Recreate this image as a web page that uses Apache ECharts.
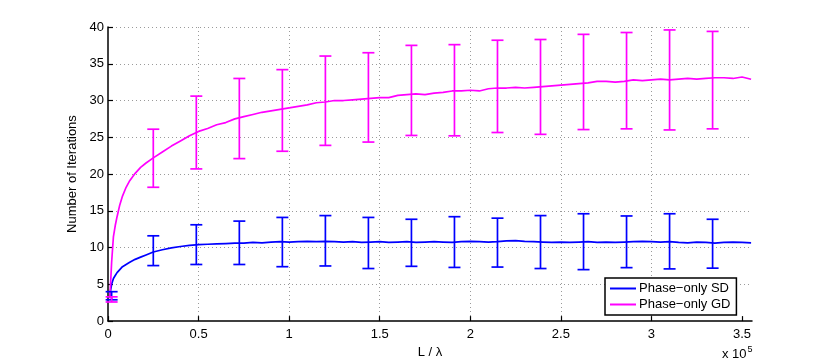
<!DOCTYPE html>
<html>
<head>
<meta charset="utf-8">
<script src="https://cdn.jsdelivr.net/npm/echarts@6/dist/echarts.min.js"></script>
<style>
  html, body { margin: 0; padding: 0; background: #fff; }
  #iterations { width: 830px; height: 364px; }
</style>
</head>
<body>
<div id="iterations"></div>
<script>
// L / lambda sample positions (x 10^5)
const lineX = [0.01, 0.015, 0.02, 0.03, 0.04, 0.05, 0.065, 0.08, 0.1, 0.12, 0.15, 0.18, 0.21, 0.25, 0.3,
  0.35, 0.4, 0.45, 0.5, 0.55, 0.6, 0.65, 0.7, 0.75, 0.8, 0.85, 0.9, 0.95, 1.0, 1.05, 1.1, 1.15, 1.2, 1.25,
  1.3, 1.35, 1.4, 1.45, 1.5, 1.55, 1.6, 1.65, 1.7, 1.75, 1.8, 1.85, 1.9, 1.95, 2.0, 2.05, 2.1, 2.15, 2.2,
  2.25, 2.3, 2.35, 2.4, 2.45, 2.5, 2.55, 2.6, 2.65, 2.7, 2.75, 2.8, 2.85, 2.9, 2.95, 3.0, 3.05, 3.1, 3.15,
  3.2, 3.25, 3.3, 3.35, 3.4, 3.45, 3.5, 3.55];

// mean number of iterations, phase-only SD
const sdMean = [3.3, 4.3, 5.0, 5.8, 6.2, 6.6, 7.0, 7.4, 7.7, 8.0, 8.4, 8.7, 9.0, 9.4, 9.7,
  9.95, 10.15, 10.3, 10.4, 10.45, 10.5, 10.55, 10.6, 10.6, 10.7, 10.65, 10.75, 10.8, 10.75, 10.8, 10.85, 10.8, 10.85, 10.8,
  10.75, 10.8, 10.7, 10.75, 10.8, 10.7, 10.75, 10.8, 10.7, 10.75, 10.8, 10.75, 10.7, 10.8, 10.85, 10.8, 10.75, 10.8, 10.9,
  10.95, 10.85, 10.8, 10.75, 10.7, 10.75, 10.7, 10.75, 10.8, 10.7, 10.75, 10.7, 10.75, 10.8, 10.85, 10.8, 10.75, 10.8, 10.7,
  10.65, 10.75, 10.7, 10.6, 10.7, 10.75, 10.7, 10.65];

// mean number of iterations, phase-only GD
const gdMean = [3.1, 5.5, 8.0, 11.5, 13.0, 14.2, 15.8, 17.0, 18.2, 19.1, 20.1, 20.9, 21.5, 22.2, 23.0,
  23.8, 24.5, 25.2, 25.8, 26.2, 26.7, 27.0, 27.5, 27.8, 28.1, 28.4, 28.6, 28.8, 29.0, 29.2, 29.4, 29.7, 29.8, 30.0,
  30.0, 30.1, 30.2, 30.3, 30.4, 30.4, 30.7, 30.8, 30.9, 30.8, 31.0, 31.1, 31.3, 31.3, 31.4, 31.3, 31.6, 31.7, 31.7,
  31.8, 31.7, 31.8, 31.9, 32.0, 32.1, 32.2, 32.3, 32.4, 32.6, 32.6, 32.5, 32.6, 32.8, 32.7, 32.8, 32.9, 32.8, 32.9,
  33.0, 32.9, 33.0, 33.1, 33.1, 33.0, 33.2, 32.9];

// error bar positions (x 10^5) and ranges
const barX = [0.02, 0.25, 0.4875, 0.725, 0.9625, 1.2, 1.4375, 1.675, 1.9125, 2.15, 2.3875, 2.625, 2.8625, 3.1, 3.3375];
const sdLow = [2.9, 7.55, 7.7, 7.7, 7.4, 7.5, 7.15, 7.45, 7.3, 7.35, 7.15, 7.0, 7.27, 7.1, 7.2];
const sdHigh = [4.0, 11.6, 13.1, 13.6, 14.1, 14.35, 14.1, 13.85, 14.2, 14.0, 14.35, 14.6, 14.3, 14.6, 13.85];
const gdLow = [2.6, 18.2, 20.7, 22.1, 23.1, 23.9, 24.35, 25.25, 25.2, 25.65, 25.4, 26.05, 26.15, 26.0, 26.15];
const gdHigh = [3.3, 26.1, 30.6, 33.0, 34.2, 36.05, 36.5, 37.5, 37.6, 38.2, 38.3, 39.0, 39.25, 39.6, 39.4];

const xTicks = [0, 0.5, 1, 1.5, 2, 2.5, 3, 3.5];

const font = "'Liberation Sans', Arial, Helvetica, sans-serif";

function pairs (xs, ys) {
  return xs.map((x, i) => [x, ys[i]]);
}
function bars (xs, lo, hi) {
  return xs.map((x, i) => [x, lo[i], hi[i]]);
}

// I-beam error bar
function errorBar (color) {
  return function (params, api) {
    const top = api.coord([api.value(0), api.value(2)]);
    const bot = api.coord([api.value(0), api.value(1)]);
    const hw = 6;
    const style = { stroke: color, lineWidth: 1.7 };
    return {
      type: 'group',
      children: [
        { type: 'line', shape: { x1: top[0], y1: top[1], x2: bot[0], y2: bot[1] }, style: style },
        { type: 'line', shape: { x1: top[0] - hw, y1: top[1], x2: top[0] + hw, y2: top[1] }, style: style },
        { type: 'line', shape: { x1: bot[0] - hw, y1: bot[1], x2: bot[0] + hw, y2: bot[1] }, style: style }
      ]
    };
  };
}

let myChart = echarts.init(document.getElementById('iterations'));

const axisStyle = {
  axisLine: { lineStyle: { color: '#000', width: 1.5 } },
  axisTick: { inside: true, length: 5, lineStyle: { color: '#000', width: 1.2 } },
  splitLine: {
    show: true,
    showMaxLine: false,
    lineStyle: { color: '#9a9a9a', type: [1, 3], width: 1 }
  }
};

myChart.setOption({
  animation: false,
  textStyle: { fontFamily: font },
  grid: { left: 108, right: 78, top: 27, bottom: 41 },
  legend: {
    orient: 'vertical',
    left: 605,
    top: 278,
    padding: [4, 6, 4, 5],
    itemWidth: 26,
    itemHeight: 2,
    itemGap: 3,
    icon: 'rect',
    borderColor: '#000',
    borderWidth: 1.5,
    backgroundColor: '#fff',
    textStyle: { fontFamily: font, fontSize: 13, color: '#000', padding: [0, 0, 0, -2] },
    data: ['Phase\u2212only SD', 'Phase\u2212only GD']
  },
  xAxis: Object.assign({}, axisStyle, {
    type: 'value',
    min: 0,
    max: 3.555,
    name: 'L / \u03bb',
    nameLocation: 'middle',
    nameGap: 21,
    nameTextStyle: { fontFamily: font, fontSize: 13, color: '#000' },
    axisTick: Object.assign({}, axisStyle.axisTick, { customValues: xTicks }),
    axisLabel: { customValues: xTicks, color: '#000', fontSize: 13, fontFamily: font, margin: 7 },
    splitLine: Object.assign({}, axisStyle.splitLine, { showMinLine: false })
  }),
  yAxis: Object.assign({}, axisStyle, {
    type: 'value',
    min: 0,
    max: 40,
    interval: 5,
    name: 'Number of Iterations',
    nameLocation: 'middle',
    nameGap: 25,
    nameTextStyle: { fontFamily: font, fontSize: 13, color: '#000' },
    axisLabel: { color: '#000', fontSize: 13, fontFamily: font, margin: 4 },
    splitLine: Object.assign({}, axisStyle.splitLine, { showMinLine: false, showMaxLine: true })
  }),
  graphic: [{
    type: 'text',
    left: 722,
    top: 345,
    style: {
      text: 'x 10{s|5}',
      fill: '#000',
      font: '13px ' + font,
      rich: { s: { fontSize: 9, fontFamily: font, fill: '#000', padding: [0, 0, 9, 1] } }
    }
  }],
  series: [
    {
      name: 'Phase\u2212only SD',
      type: 'line',
      symbol: 'none',
      data: pairs(lineX, sdMean),
      lineStyle: { color: '#0000ff', width: 1.7 },
      itemStyle: { color: '#0000ff' },
      z: 3
    },
    {
      name: 'Phase\u2212only GD',
      type: 'line',
      symbol: 'none',
      data: pairs(lineX, gdMean),
      lineStyle: { color: '#ff00ff', width: 1.7 },
      itemStyle: { color: '#ff00ff' },
      z: 3
    },
    {
      name: 'SD error',
      type: 'custom',
      renderItem: errorBar('#0000ff'),
      data: bars(barX, sdLow, sdHigh),
      z: 4
    },
    {
      name: 'GD error',
      type: 'custom',
      renderItem: errorBar('#ff00ff'),
      data: bars(barX, gdLow, gdHigh),
      z: 4
    }
  ]
});

window.addEventListener('resize', () => {
  myChart.resize();
});
</script>
</body>
</html>
